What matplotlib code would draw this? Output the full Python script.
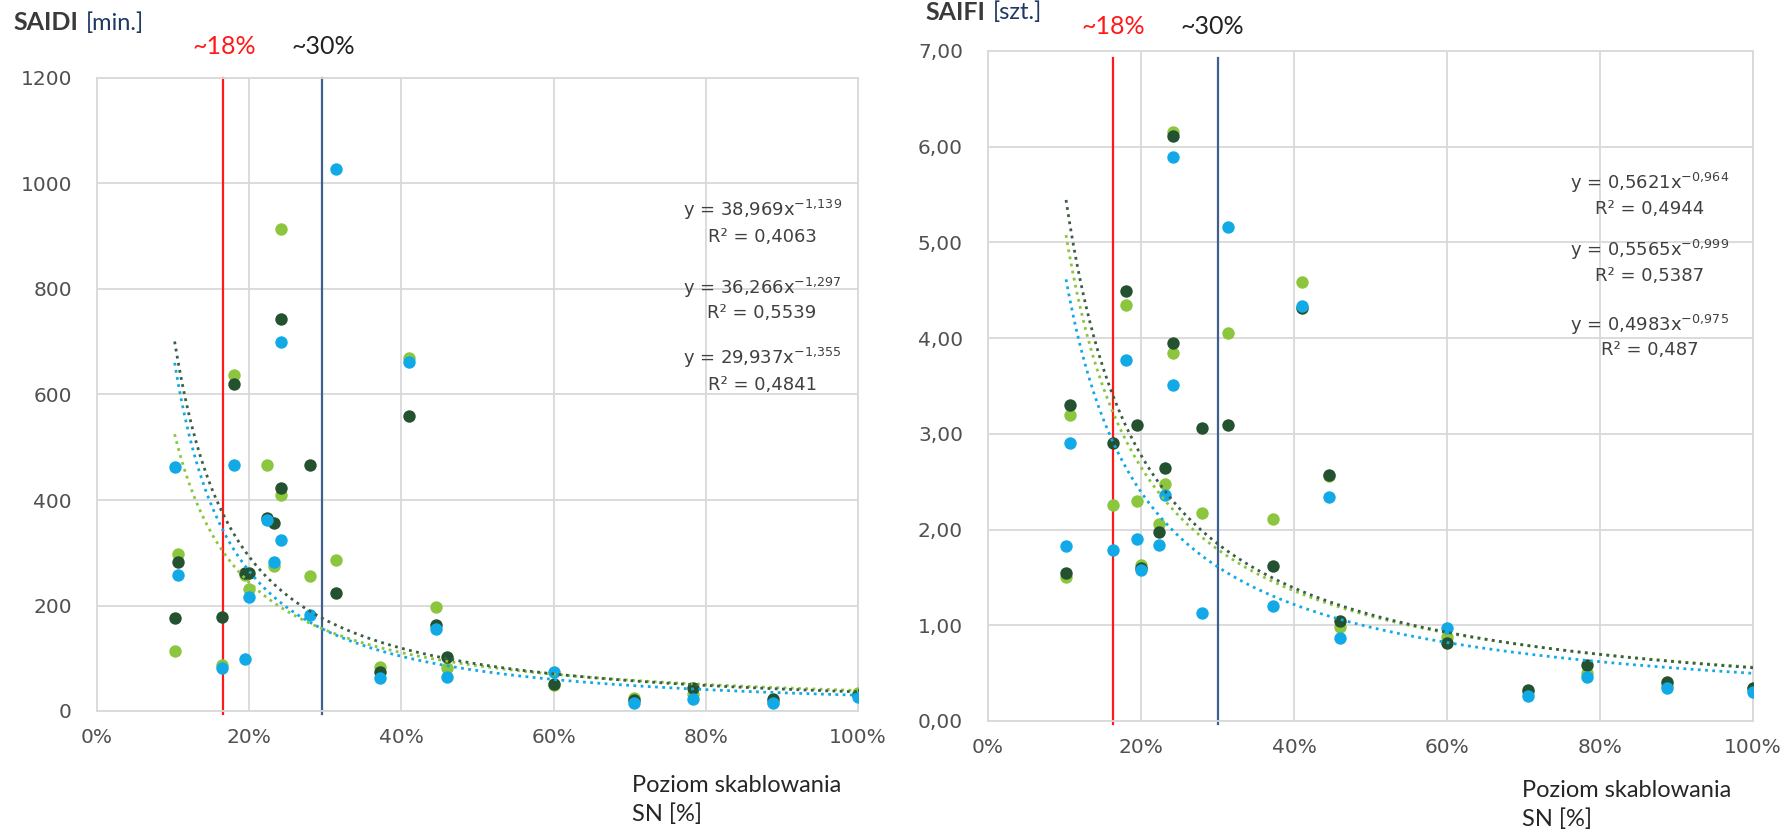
import numpy as np
import matplotlib.pyplot as plt
from matplotlib.ticker import PercentFormatter, FuncFormatter, MultipleLocator

# poziom skablowania sieci SN (udzial), wspolny dla obu wykresow
x_sn = [0.102, 0.107, 0.164, 0.180, 0.195, 0.200, 0.224, 0.232, 0.242, 0.242, 0.280,
        0.314, 0.372, 0.410, 0.446, 0.460, 0.600, 0.706, 0.783, 0.888, 1.000]

saidi_dark = [176, 283, 179, 620, 262, 262, 366, 356, 743, 422, 466,
              224, 74, 560, 163, 102, 51, 20, 43, 23, 30]
saidi_green = [113, 298, 87, 637, 258, 231, 466, 274, 913, 409, 255,
               286, 84, 669, 198, 81, 50, 24, 33, 18, 35]
saidi_blue = [463, 258, 82, 466, 98, 217, 363, 283, 699, 324, 182,
              1027, 63, 661, 155, 65, 73, 16, 22, 16, 26]

saifi_dark = [1.55, 3.30, 2.90, 4.49, 3.09, 1.60, 1.97, 2.64, 6.11, 3.95, 3.06,
              3.09, 1.62, 4.32, 2.57, 1.04, 0.81, 0.32, 0.58, 0.41, 0.34]
saifi_green = [1.50, 3.20, 2.26, 4.35, 2.30, 1.63, 2.06, 2.48, 6.15, 3.85, 2.17,
               4.05, 2.11, 4.59, 2.56, 0.98, 0.88, 0.30, 0.50, 0.38, 0.33]
saifi_blue = [1.83, 2.90, 1.79, 3.77, 1.90, 1.58, 1.84, 2.36, 5.89, 3.51, 1.13,
              5.16, 1.20, 4.34, 2.34, 0.87, 0.97, 0.26, 0.46, 0.35, 0.30]

# linie trendu y = a * x^b  (green, dark, blue)
saidi_a = [38.969, 36.266, 29.937]
saidi_b = [-1.139, -1.297, -1.355]
saidi_r2 = ['0,4063', '0,5539', '0,4841']
saifi_a = [0.5621, 0.5565, 0.4983]
saifi_b = [-0.964, -0.999, -0.975]
saifi_r2 = ['0,4944', '0,5387', '0,487']

GREEN = '#8cc63f'
DARK = '#24512f'
DARK_TREND = '#3a5f44'
BLUE = '#12aae6'
GRID = '#d9d9d9'
TXT = '#404040'


def fmt_pl(v, nd):
    return f'{v:.{nd}f}'.replace('.', ',')


def panel(ax, dark, green, blue, a_list, b_list, r2_list, nd_a, eq_pos,
          ymax, ystep, yfmt, red_x, navy_x, vtop):
    ax.set_xlim(0, 1)
    ax.set_ylim(0, ymax)
    ax.xaxis.set_major_locator(MultipleLocator(0.2))
    ax.yaxis.set_major_locator(MultipleLocator(ystep))
    ax.xaxis.set_major_formatter(PercentFormatter(xmax=1, decimals=0))
    ax.yaxis.set_major_formatter(FuncFormatter(yfmt))
    ax.grid(True, color=GRID, lw=1.3)
    ax.set_axisbelow(True)
    for s in ax.spines.values():
        s.set_color(GRID)
        s.set_linewidth(1.3)
    ax.tick_params(length=0, labelsize=14.5, labelcolor='#505050', pad=12)
    ax.tick_params(axis='y', pad=18)

    ax.axvline(red_x, ymin=-0.004, ymax=vtop, color='#ff1a1a', lw=1.6, clip_on=False, zorder=2)
    ax.axvline(navy_x, ymin=-0.004, ymax=vtop, color='#3f5f8f', lw=1.6, clip_on=False, zorder=2)

    xs = np.array(x_sn)
    ax.scatter(xs, green, s=80, color=GREEN, zorder=3, linewidths=0)
    ax.scatter(xs, dark, s=80, color=DARK, zorder=4, linewidths=0)
    ax.scatter(xs, blue, s=80, color=BLUE, zorder=5, linewidths=0)

    xt = np.linspace(min(x_sn), 1.0, 200)
    for a, b, c in zip(a_list, b_list, [GREEN, DARK_TREND, BLUE]):
        ax.plot(xt, a * xt ** b, ls=(0, (1, 1.6)), lw=2.0, color=c, zorder=6)

    for (ex, ey, ry), a, b, r2 in zip(eq_pos, a_list, b_list, r2_list):
        sup = fmt_pl(b, 3).replace(',', r',\!')
        ax.text(ex, ey, f'y = {fmt_pl(a, nd_a)}x$^{{{sup}}}$', ha='center', va='center',
                fontsize=13, color=TXT, zorder=7)
        ax.text(ex, ry, f'R² = {r2}', ha='center', va='center', fontsize=13, color=TXT, zorder=7)


fig = plt.figure(figsize=(17.83, 8.34), dpi=100)
W, H = 1783, 834

ax1 = fig.add_axes([97 / W, 1 - 711 / H, 761 / W, 633 / H])
panel(ax1, saidi_dark, saidi_green, saidi_blue, saidi_a, saidi_b, saidi_r2, 3,
      [(0.874, 950, 899), (0.874, 802, 754), (0.874, 669, 618)],
      1200, 200, lambda v, p: f'{v:.0f}', 0.166, 0.296, 1.0)

ax2 = fig.add_axes([988 / W, 1 - 721 / H, 765 / W, 670 / H])
panel(ax2, saifi_dark, saifi_green, saifi_blue, saifi_a, saifi_b, saifi_r2, 4,
      [(0.865, 5.62, 5.35), (0.865, 4.92, 4.65), (0.865, 4.14, 3.88)],
      7, 1, lambda v, p: fmt_pl(v, 2), 0.163, 0.301, 0.99)

# naglowki osi i progi
FONT = 'Lato'
fig.text(13 / W, 1 - 23 / H, 'SAIDI', fontsize=18, family=FONT, fontweight='bold', color='#3a3a3a', va='center')
fig.text(86 / W, 1 - 23 / H, '[min.]', fontsize=17, family=FONT, color='#1f3864', va='center')
fig.text(224 / W, 1 - 47 / H, '~18%', fontsize=18, family=FONT, color='#ff1a1a', ha='center', va='center')
fig.text(323 / W, 1 - 47 / H, '~30%', fontsize=18, family=FONT, color='#222222', ha='center', va='center')

fig.text(925 / W, 1 - 12 / H, 'SAIFI', fontsize=18, family=FONT, fontweight='bold', color='#3a3a3a', va='center')
fig.text(993 / W, 1 - 12 / H, '[szt.]', fontsize=17, family=FONT, color='#1f3864', va='center')
fig.text(1113 / W, 1 - 27 / H, '~18%', fontsize=18, family=FONT, color='#ff1a1a', ha='center', va='center')
fig.text(1212 / W, 1 - 27 / H, '~30%', fontsize=18, family=FONT, color='#222222', ha='center', va='center')

for x0, y0 in [(632, 800), (1522, 805)]:
    fig.text(x0 / W, 1 - y0 / H, 'Poziom skablowania\nSN [%]', fontsize=17, family=FONT,
             color='#262626', ha='left', va='center', linespacing=1.45)

fig.savefig('out.png', dpi=100)
